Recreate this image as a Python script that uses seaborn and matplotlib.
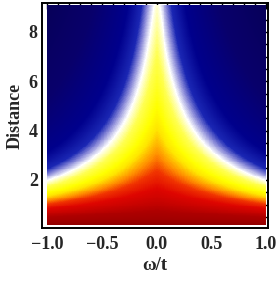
import numpy as np
import pandas as pd
import matplotlib
matplotlib.use("Agg")
import matplotlib.pyplot as plt
from matplotlib.colors import LinearSegmentedColormap
from matplotlib.ticker import MultipleLocator
import seaborn as sns

# ---- values ----
omega_range = [-1.0, 1.0]          # ω/t axis of the density image
distance_range = [0.18, 9.1]       # Distance axis of the density image
# decay rate kappa(ω) = kappa_scale * |ω|**kappa_power
kappa_scale = 0.82
kappa_power = 1.2
# colour stops, as a function of log-level S = kappa*d + ln d
level_stops = [-1.75, -0.3, 0.5, 0.85, 1.1, 1.4, 1.6, 1.95, 2.3, 2.6, 2.9, 3.7, 6.0, 9.5]
level_colors = ["#8c0000", "#ad0000", "#de0500", "#f03300", "#ff8c00", "#ffe600",
                "#ffff00", "#ffff50", "#ffffff", "#8c8cd9", "#1a26b3", "#00008c",
                "#08006b", "#070059"]
x_ticks = [-1.0, -0.5, 0.0, 0.5, 1.0]
x_tick_labels = ["\u22121.0", "\u22120.5", "0.0", "0.5", "1.0"]
y_ticks = [2, 4, 6, 8]
x_label = "\u03c9/t"
y_label = "Distance"

nx, ny = 220, 250
xe = np.linspace(omega_range[0], omega_range[1], nx + 1)
ye = np.linspace(distance_range[0], distance_range[1], ny + 1)
xc = 0.5 * (xe[1:] + xe[:-1])
yc = 0.5 * (ye[1:] + ye[:-1])
W, D = np.meshgrid(xc, yc, indexing="ij")
kappa = kappa_scale * np.abs(W) ** kappa_power
S = kappa * D + np.log(D)

smin, smax = level_stops[0], level_stops[-1]
pos = [(s - smin) / (smax - smin) for s in level_stops]
cmap = LinearSegmentedColormap.from_list("dens", list(zip(pos, level_colors)), N=512)
wnorm = np.clip((S - smin) / (smax - smin), 1e-4, 1.0)

df = pd.DataFrame({"omega": W.ravel(), "dist": D.ravel(), "w": wnorm.ravel()})

sns.set_style("white")
plt.rcParams["font.family"] = ["Liberation Serif", "DejaVu Serif"]
plt.rcParams["font.weight"] = "bold"

fig = plt.figure(figsize=(2.77, 2.81), dpi=100)
ax = fig.add_axes([42 / 277, 1 - 228 / 281, (268 - 42) / 277, (228 - 3) / 281])
sns.histplot(data=df, x="omega", y="dist", weights="w",
             bins=(nx, ny), binrange=(tuple(omega_range), tuple(distance_range)),
             cmap=cmap, vmin=0, vmax=1, thresh=None, ax=ax)

ax.set_xlim(-1.046, 1.018)
ax.set_ylim(0.054, 9.175)
ax.set_xticks(x_ticks)
ax.set_xticklabels(x_tick_labels)
ax.set_yticks(y_ticks)
ax.xaxis.set_minor_locator(MultipleLocator(0.1))
ax.yaxis.set_minor_locator(MultipleLocator(0.5))
ax.tick_params(which="both", direction="in", top=True, right=True, color="black",
               width=1.0, labelsize=13)
ax.tick_params(which="major", length=4.5)
ax.tick_params(which="minor", length=2.5)
ax.tick_params(axis="x", which="major", pad=6)
ax.tick_params(axis="y", which="major", pad=3)
for lab in ax.get_xticklabels() + ax.get_yticklabels():
    lab.set_fontweight("bold")
for sp in ax.spines.values():
    sp.set_visible(True)
    sp.set_color("black")
    sp.set_linewidth(1.4)
ax.set_xlabel(x_label, fontsize=13.5, fontweight="bold", labelpad=3)
ax.set_ylabel(y_label, fontsize=13, fontweight="bold", labelpad=4)

fig.savefig("out.png", dpi=100)
